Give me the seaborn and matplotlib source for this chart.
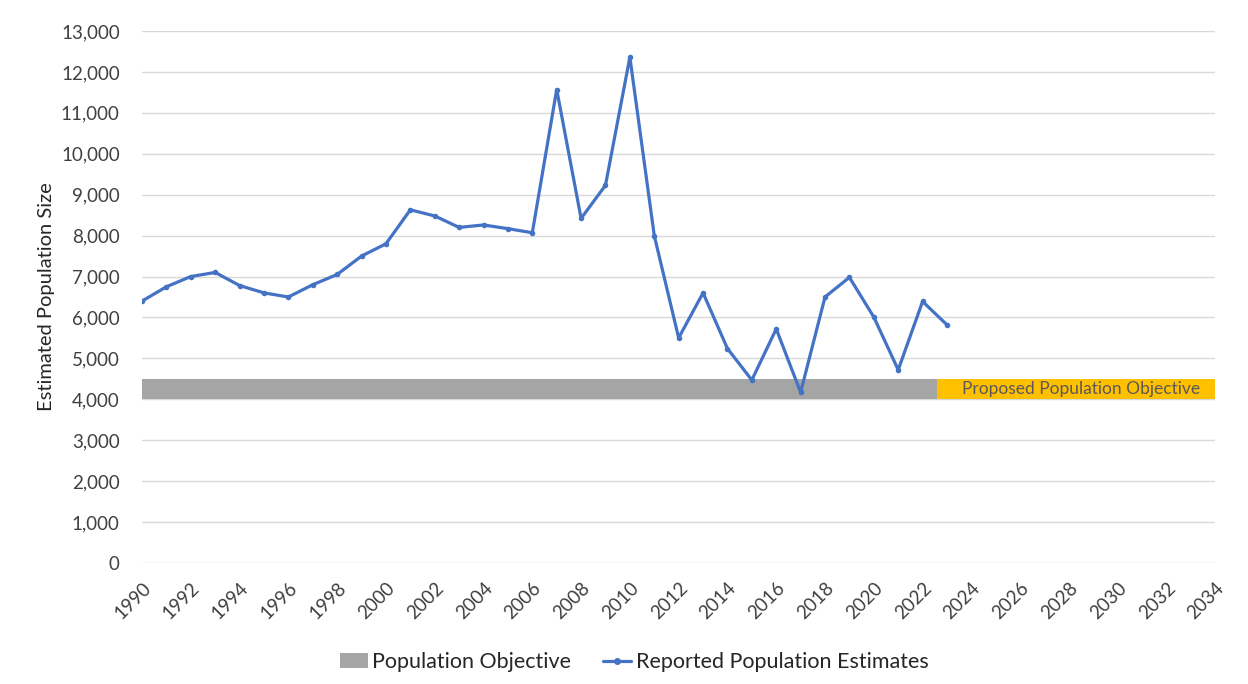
import matplotlib.pyplot as plt
import pandas as pd
import seaborn as sns
from matplotlib.lines import Line2D
from matplotlib.patches import Patch
from matplotlib.ticker import FuncFormatter, MultipleLocator

# reported population estimates
years = list(range(1990, 2024))
estimates = [
    6400, 6750, 7000, 7100, 6780, 6600, 6500, 6800, 7050, 7500,
    7800, 8630, 8480, 8200, 8260, 8170, 8070, 11570, 8420, 9230,
    12360, 8000, 5500, 6600, 5240, 4470, 5720, 4170, 6500, 6980,
    6010, 4720, 6390, 5820,
]

# objective band (low / high) and where the proposed objective starts
objective_low = 4000
objective_high = 4500
current_span = [1990, 2022.6]
proposed_span = [2022.6, 2034]
proposed_label = "Proposed Population Objective"

x_ticks = list(range(1990, 2035, 2))

sns.set_theme(style="white")
plt.rcParams["font.family"] = ["Lato", "DejaVu Sans"]

blue = "#4472C4"
grey = "#A5A5A5"
gold = "#FFC000"
text_color = "#404040"

df = pd.DataFrame({"year": years, "estimate": estimates})

fig = plt.figure(figsize=(12.48, 6.84), dpi=100)
ax = fig.add_axes([0.1138, 0.1769, 0.86, 0.7778])

ax.fill_between(current_span, objective_low, objective_high, color=grey, lw=0, zorder=2)
ax.fill_between(proposed_span, objective_low, objective_high, color=gold, lw=0, zorder=2)
ax.text(sum(proposed_span) / 2 + 0.2, (objective_low + objective_high) / 2, proposed_label,
        ha="center", va="center", fontsize=12.5, color="#595959", zorder=3)

sns.lineplot(data=df, x="year", y="estimate", color=blue, linewidth=2.3,
             marker="o", markersize=4, markeredgewidth=0, ax=ax, zorder=4)

ax.set_xlim(1990, 2034)
ax.set_ylim(0, 13000)
ax.yaxis.set_major_locator(MultipleLocator(1000))
ax.yaxis.set_major_formatter(FuncFormatter(lambda v, _: f"{int(v):,}"))
ax.set_xticks(x_ticks)
ax.set_xticklabels([str(t) for t in x_ticks], rotation=45, ha="right",
                   rotation_mode="anchor", fontsize=13.5, color=text_color)
ax.tick_params(axis="y", labelsize=13.5, labelcolor=text_color, length=0, pad=16)
ax.tick_params(axis="x", length=0, pad=12)
ax.grid(axis="y", color="#d9d9d9", linewidth=1)
ax.set_axisbelow(True)
for side in ax.spines.values():
    side.set_visible(False)

ax.set_xlabel("")
ax.set_ylabel("Estimated Population Size", fontsize=14.5, color="#262626", labelpad=4)

handles = [
    Patch(facecolor=grey, edgecolor="none"),
    Line2D([0], [0], color=blue, linewidth=2.3, marker="o", markersize=4),
]
fig.legend(handles, ["Population Objective", "Reported Population Estimates"],
           loc="center", bbox_to_anchor=(0.508, 0.032), ncol=2, frameon=False,
           fontsize=15.5, handlelength=1.3, handletextpad=0.2, columnspacing=1.5,
           labelcolor="#262626")

fig.savefig("out.png", dpi=100)
